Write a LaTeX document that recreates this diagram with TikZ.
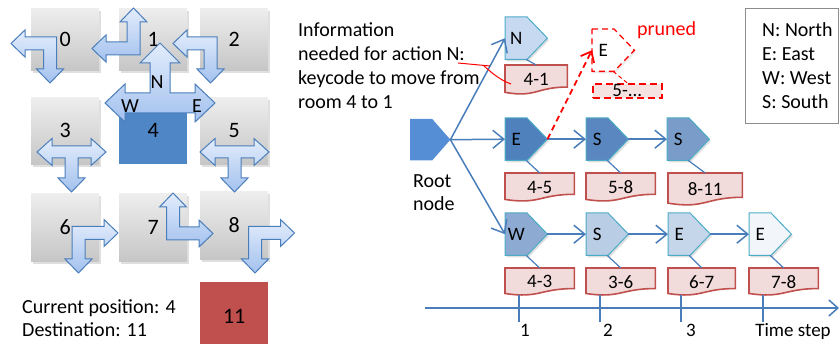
\documentclass[tikz,border=0pt]{standalone}
\usepackage{fontspec}
\setmainfont{Carlito}
\usetikzlibrary{arrows.meta,shadows,calc,backgrounds}
\definecolor{arrowline}{HTML}{4A7EBB}
\definecolor{arrowtop}{HTML}{E3EDFC}
\definecolor{arrowbot}{HTML}{A3C1EE}
\definecolor{boxtop}{HTML}{EEEEEE}
\definecolor{boxbot}{HTML}{C6C6C6}
\definecolor{roomblue}{HTML}{4F86C6}
\definecolor{roomred}{HTML}{C0504D}
\definecolor{connc}{HTML}{4A7EBB}
\definecolor{nodeline}{HTML}{4BACC6}
\definecolor{docfill}{HTML}{F2DCDB}
\definecolor{docline}{HTML}{C0504D}
\definecolor{cN}{HTML}{C6D9F1}
\definecolor{cEa}{HTML}{4F81BD}
\definecolor{cSa}{HTML}{5A87C0}
\definecolor{cSb}{HTML}{7A9CC8}
\definecolor{cW}{HTML}{8DAAD3}
\definecolor{cSc}{HTML}{B9CDE5}
\definecolor{cEb}{HTML}{C6D6EA}
\definecolor{cEc}{HTML}{F2F5FA}
\definecolor{cRoot}{HTML}{558ED5}
\definecolor{legline}{HTML}{8C8C8C}
\newcommand\fsz[1]{\fontsize{#1}{#1}\selectfont}
\newcommand\actl[1]{\makebox[22pt]{#1}\hspace*{20pt}}
\newcommand\pentashape[3]{\path[#2] (#1.north west) -- ($(#1.north west)!#3!(#1.north east)$) -- (#1.east) -- ($(#1.south west)!#3!(#1.south east)$) -- (#1.south west) -- cycle;}
\newcommand\docshape[2]{\path[#2] (#1.north west) -- (#1.north east) -- ($(#1.north east)!0.75!(#1.south east)$) .. controls ($(#1.north)!0.75!(#1.south)$) and ($(#1.north)!1.12!(#1.south)$) .. ($(#1.north west)!0.93!(#1.south west)$) -- cycle;}
\begin{document}
\begin{tikzpicture}[x=1pt,y=-1pt,
  room/.style={rectangle, anchor=north west, minimum width=68pt, inner sep=0pt, top color=boxtop, bottom color=boxbot, drop shadow={opacity=0.25,shadow xshift=2pt,shadow yshift=-2.5pt}, font=\fsz{22}},
  roomflat/.style={rectangle, anchor=north west, minimum width=68pt, inner sep=0pt, font=\fsz{22}},
  blk/.style={draw=arrowline, line width=1pt, top color=arrowtop, bottom color=arrowbot, line join=miter},
  act/.style={rectangle, anchor=north west, minimum width=42pt, minimum height=42pt, inner sep=0pt, font=\fsz{19}},
  pent/.style={draw=nodeline, line width=1pt, drop shadow={opacity=0.25,shadow xshift=1.5pt,shadow yshift=-2pt}},
  doc/.style={rectangle, anchor=north west, inner sep=0pt, font=\fsz{19}},
  docst/.style={draw=docline, line width=1.6pt, fill=docfill},
  conn/.style={draw=connc, line width=1.5pt, -{Straight Barb[length=11pt,width=18pt]}},
  txt/.style={anchor=base west, inner sep=0pt, font=\fsz{20}},
  lbl/.style={anchor=base, inner sep=0pt, font=\fsz{19}}]
\useasboundingbox (0,0) rectangle (840,344);

% ---------- rooms ----------
\node[room, minimum height=62pt] (r0) at (31,8) {0};
\node[room, minimum height=62pt] (r1) at (119,8) {1};
\node[room, minimum height=62pt] (r2) at (200,8) {2};
\node[room, minimum height=67pt] (r3) at (31,97) {3};
\node[roomflat, minimum height=67pt, fill=roomblue] (r4) at (119,97) {4};
\node[room, minimum height=67pt] (r5) at (200,97) {5};
\node[room, minimum height=68pt] (r6) at (31,193) {6};
\node[room, minimum height=68pt] (r7) at (119,193) {7};
\node[room, minimum height=68pt] (r8) at (200,191) {8};
\node[roomflat, minimum height=68pt, fill=roomred] (r11) at (200,282) {11};

% ---------- block arrows ----------
\draw[blk] (11,43.5) -- (25,30) -- (25,37) -- (56.5,37) -- (56.5,69) -- (63.5,69) -- (50,83) -- (36.5,69) -- (43.5,69) -- (43.5,50) -- (25,50) -- (25,57) -- cycle;
\draw[blk] (133.5,8) -- (147,22) -- (140,22) -- (140,55) -- (106,55) -- (106,62) -- (92,48.5) -- (106,35) -- (106,42) -- (127,42) -- (127,22) -- (120,22) -- cycle;
\draw[blk] (173,43.5) -- (187,30) -- (187,37) -- (217,37) -- (217,69) -- (224,69) -- (210.5,83) -- (197,69) -- (204,69) -- (204,50) -- (187,50) -- (187,57) -- cycle;
\foreach \dx in {0,163}{
\draw[blk, xshift=\dx pt] (37,152) -- (52,138.5) -- (52,146) -- (91,146) -- (91,138.5) -- (106,152) -- (91,165.5) -- (91,158) -- (78,158) -- (78,178) -- (85,178) -- (71.5,192) -- (58,178) -- (65,178) -- (65,158) -- (52,158) -- (52,165.5) -- cycle;}
\foreach \dx in {0,176.5}{
\draw[blk, xshift=\dx pt] (118,233) -- (104,219.5) -- (104,226.5) -- (72,226.5) -- (72,259) -- (65,259) -- (78.5,273) -- (92,259) -- (85,259) -- (85,239.5) -- (104,239.5) -- (104,246.5) -- cycle;}
\draw[blk] (173,193) -- (186.5,207) -- (179.5,207) -- (179.5,227) -- (199,227) -- (199,220) -- (213,233.5) -- (199,247) -- (199,240) -- (166.5,240) -- (166.5,207) -- (159.5,207) -- cycle;
\draw[blk] (160,43) -- (180,63) -- (170,63) -- (170,93) -- (195,93) -- (195,84) -- (215,103) -- (195,122) -- (195,113) -- (125,113) -- (125,122) -- (105,103) -- (125,84) -- (125,93) -- (150,93) -- (150,63) -- (140,63) -- cycle;
\node[font=\fsz{20}, inner sep=0pt] (lN) at (157,82) {N};
\node[font=\fsz{20}, inner sep=0pt] (lW) at (130,106) {W};
\node[font=\fsz{20}, inner sep=0pt] (lE) at (197,106) {E};

% ---------- texts left ----------
\node[txt] (cur) at (22,313) {Current position: 4};
\node[txt] (dest) at (22,336) {Destination: 11};

% ---------- info text ----------
\node[txt] (i1) at (298,37) {Information};
\node[txt] (i2) at (298,61) {needed for action N:};
\node[txt] (i3) at (298,85) {keycode to move from};
\node[txt] (i4) at (298,109) {room 4 to 1};
\node[txt] (rt1) at (413,188) {Root};
\node[txt] (rt2) at (413,211) {node};
\node[txt, text=red] (prl) at (637,36) {pruned};

% ---------- legend ----------
\node[draw=legline, line width=1pt, anchor=north west, minimum width=93pt, minimum height=115pt, inner sep=0pt] (leg) at (745,8) {};
\node[txt] (g1) at (762,37) {N: North};
\node[txt] (g2) at (762,61) {E: East};
\node[txt] (g3) at (762,85) {W: West};
\node[txt] (g4) at (762,109) {S: South};

% ---------- tree nodes ----------
\node[act, minimum width=40pt, minimum height=41pt] (root) at (410,119) {};
\node[act] (n1) at (505,17) {\actl{N}};
\node[act] (e2) at (505,118) {\actl{E}};
\node[act] (s2a) at (586,118) {\actl{S}};
\node[act] (s2b) at (667,118) {\actl{S}};
\node[act] (w3) at (505,213) {\actl{W}};
\node[act] (s3) at (586,213) {\actl{S}};
\node[act] (e3a) at (668,213) {\actl{E}};
\node[act] (e3b) at (749,213) {\actl{E}};
\node[act] (pr) at (592,29) {\actl{E}};

\node[doc, minimum width=62pt, minimum height=29pt] (l41) at (505,65) {4-1};
\node[doc, minimum width=69pt, minimum height=28pt] (l45) at (505,173) {4-5};
\node[doc, minimum width=69pt, minimum height=28pt] (l58) at (586,173) {5-8};
\node[doc, minimum width=74pt, minimum height=32pt] (l811) at (668,173) {8-11};
\node[doc, minimum width=69pt, minimum height=27pt] (l43) at (505,268) {4-3};
\node[doc, minimum width=69pt, minimum height=27pt] (l36) at (586,268) {3-6};
\node[doc, minimum width=67pt, minimum height=27pt] (l67) at (668,268) {6-7};
\node[doc, minimum width=69pt, minimum height=27pt] (l78) at (749,268) {7-8};
\node[doc, minimum width=69pt, minimum height=14pt, draw=red, dash pattern=on 7pt off 4pt, line width=1.6pt, fill=docfill!80] (pl) at (592,83) {5-...};

\begin{scope}[on background layer]
\pentashape{root}{fill=cRoot}{0.55}
\pentashape{n1}{pent, fill=cN}{0.52}
\pentashape{e2}{pent, fill=cEa}{0.52}
\pentashape{s2a}{pent, fill=cSa}{0.52}
\pentashape{s2b}{pent, fill=cSb}{0.52}
\pentashape{w3}{pent, fill=cW}{0.52}
\pentashape{s3}{pent, fill=cSc}{0.52}
\pentashape{e3a}{pent, fill=cEb}{0.52}
\pentashape{e3b}{pent, fill=cEc}{0.52}
\pentashape{pr}{draw=red, line width=1.3pt, dash pattern=on 6pt off 4pt, fill=white, drop shadow={opacity=0.15,shadow xshift=1.5pt,shadow yshift=-2pt}}{0.52}
\docshape{l41}{docst}
\docshape{l45}{docst}
\docshape{l58}{docst}
\docshape{l811}{docst}
\docshape{l43}{docst}
\docshape{l36}{docst}
\docshape{l67}{docst}
\docshape{l78}{docst}
\end{scope}

% ---------- connectors ----------
\draw[conn] (root.east) -- (n1.west);
\draw[conn] (root.east) -- (e2.west);
\draw[conn] (root.east) -- (w3.west);
\draw[conn] (e2.east) -- (s2a.west);
\draw[conn] (s2a.east) -- (s2b.west);
\draw[conn] (w3.east) -- (s3.west);
\draw[conn] (s3.east) -- (e3a.west);
\draw[conn] (e3a.east) -- (e3b.west);
\foreach \a/\b in {n1/l41,e2/l45,s2a/l58,s2b/l811,w3/l43,s3/l36,e3a/l67,e3b/l78}{
  \draw[connc, line width=1.2pt] (\a.south) -- (\b.north);}
\draw[red, line width=1pt, dash pattern=on 4pt off 3pt] (pr.south) -- (pl.north);
\draw[red, line width=1.8pt, dash pattern=on 6pt off 4pt, -{Straight Barb[length=9pt,width=15pt]}] (e2.east) -- (pr.west);

% callout
\coordinate (ca) at (458,63);
\coordinate (cb) at (490,66);
\coordinate (cc) at (484,66);
\coordinate (cd) at (511,84);
\draw[red, line width=1pt] (ca) -- (cb);
\draw[red, line width=1pt] (cc) .. controls (492,73) and (500,80) .. (cd);

% ---------- time axis ----------
\coordinate (ax0) at (425,308);
\coordinate (ax1) at (839,308);
\draw[connc, line width=1.5pt, -{Straight Barb[length=9pt,width=16pt]}] (ax0) -- (ax1);
\foreach \i/\x in {1/519,2/600,3/681,4/763}{
  \coordinate (t\i a) at (\x,295);
  \coordinate (t\i b) at (\x,322);
  \draw[connc, line width=1.2pt] (t\i a) -- (t\i b);}
\node[lbl] (k1) at (525,337) {1};
\node[lbl] (k2) at (608,337) {2};
\node[lbl] (k3) at (691,337) {3};
\node[lbl] (k4) at (793,337) {Time step};
\end{tikzpicture}
\end{document}
